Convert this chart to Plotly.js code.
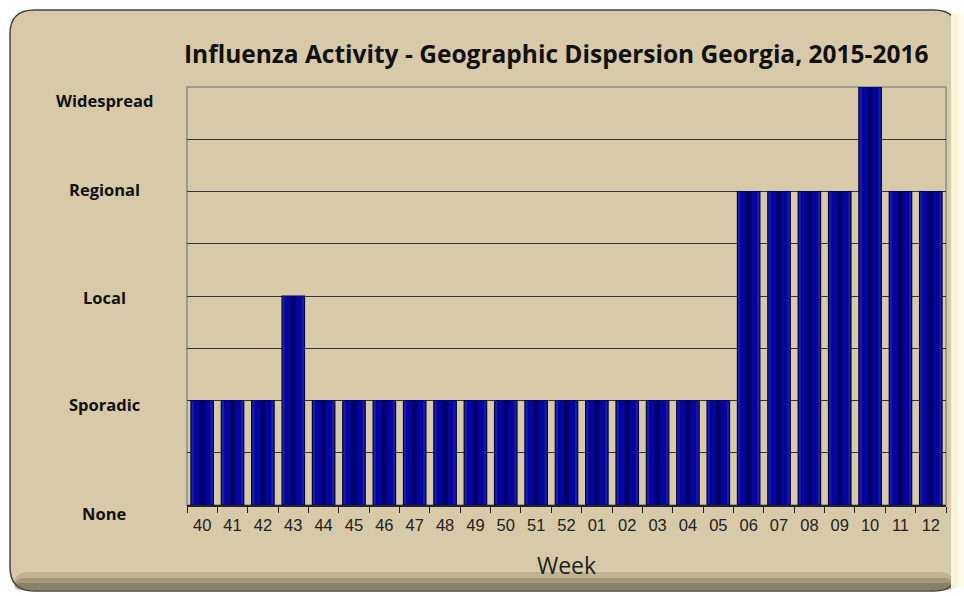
<!DOCTYPE html>
<html><head><meta charset="utf-8">
<script src="https://cdn.plot.ly/plotly-3.0.1.min.js"></script>
<style>html,body{margin:0;padding:0;background:#fff;}#chart{width:964px;height:596px;}</style>
</head><body><div id="chart"></div>
<script>
const weeks = ['40','41','42','43','44','45','46','47','48','49','50','51','52','01','02','03','04','05','06','07','08','09','10','11','12'];
const activity = [1,1,1,2,1,1,1,1,1,1,1,1,1,1,1,1,1,1,3,3,3,3,4,3,3];
const levelLabels = ['None','Sporadic','Local','Regional','Widespread'];
const levelValues = [0,1,2,3,4];

const L=187,R=946,T=87,B=505;
const px = x => (x-L)/(R-L);
const py = y => (B-y)/(B-T);
function roundRect(x0,y0,x1,y1,r){
  return `M ${px(x0+r)} ${py(y0)} L ${px(x1-r)} ${py(y0)} Q ${px(x1)} ${py(y0)} ${px(x1)} ${py(y0+r)} L ${px(x1)} ${py(y1-r)} Q ${px(x1)} ${py(y1)} ${px(x1-r)} ${py(y1)} L ${px(x0+r)} ${py(y1)} Q ${px(x0)} ${py(y1)} ${px(x0)} ${py(y1-r)} L ${px(x0)} ${py(y0+r)} Q ${px(x0)} ${py(y0)} ${px(x0+r)} ${py(y0)} Z`;
}
const shapes = [
  {type:'path',xref:'paper',yref:'paper',path:roundRect(10,10,958,591,24),fillcolor:'#d8c9a8',line:{color:'#444',width:1.5},layer:'below'},
  {type:'path',xref:'paper',yref:'paper',path:roundRect(14,572,954,590,14),fillcolor:'rgba(120,110,85,0.25)',line:{width:0},layer:'below'},
  {type:'path',xref:'paper',yref:'paper',path:roundRect(14,578,954,590,10),fillcolor:'rgba(100,90,70,0.3)',line:{width:0},layer:'below'},
  {type:'path',xref:'paper',yref:'paper',path:roundRect(14,583,954,590,6),fillcolor:'rgba(80,72,55,0.3)',line:{width:0},layer:'below'},
  {type:'rect',xref:'paper',yref:'paper',x0:px(951),x1:px(964),y0:py(14),y1:py(588),fillcolor:'#fbf3d8',line:{width:0},layer:'below'},
  {type:'rect',xref:'paper',yref:'paper',x0:px(958),x1:px(964),y0:py(14),y1:py(588),fillcolor:'#fffbea',line:{width:0},layer:'below'},
  {type:'rect',xref:'paper',yref:'paper',x0:0,x1:1,y0:0,y1:1,line:{color:'#8a8a8a',width:1.5},layer:'below'}
];
const annotations = levelLabels.map((t,i)=>({
  text:'<b>'+t+'</b>', xref:'paper', yref:'y', x:px(104), y:levelValues[i], xanchor:'center', yanchor:'middle', showarrow:false,
  yshift:[-8,-4,-1,2,-13][i], font:{family:'Open Sans, sans-serif',size:16.5,color:'#111'}
}));
annotations.push({text:'<b>Influenza Activity - Geographic Dispersion Georgia, 2015-2016</b>',xref:'paper',yref:'paper',x:px(556),y:py(54),xanchor:'center',yanchor:'middle',showarrow:false,font:{family:'Open Sans, sans-serif',size:24.5,color:'#111'}});

const traces = [
  {type:'bar',x:weeks,y:activity,width:0.74,marker:{color:'#1c1cac',line:{color:'#00003c',width:1.2}},hoverinfo:'skip'},
  {type:'bar',x:weeks,y:activity,width:0.56,marker:{color:'#05059c',line:{width:0}},hoverinfo:'skip'},
  {type:'bar',x:weeks,y:activity,width:0.16,marker:{color:'#00006a',line:{width:0}},hoverinfo:'skip'}
];
const layout = {
  width:964,height:596,margin:{l:L,r:964-R,t:T,b:596-B},
  paper_bgcolor:'rgba(0,0,0,0)',plot_bgcolor:'rgba(0,0,0,0)',
  barmode:'overlay',showlegend:false,
  xaxis:{type:'category',tickson:'boundaries',ticks:'outside',ticklen:6,tickcolor:'#222',showline:true,linecolor:'#222',linewidth:1.5,showgrid:false,
    ticklabelstandoff:5,
    tickfont:{family:'Liberation Sans, Arial, sans-serif',size:16.5,color:'#222'},
    title:{text:'Week',font:{family:'Open Sans, sans-serif',size:23,color:'#222'},standoff:24}},
  yaxis:{range:[0,4],dtick:0.5,showticklabels:false,showgrid:true,gridcolor:'#333',gridwidth:1,zeroline:false,ticks:'',showline:false},
  shapes:shapes,annotations:annotations
};
Plotly.newPlot('chart',traces,layout,{displayModeBar:false,staticPlot:true});
</script></body></html>
